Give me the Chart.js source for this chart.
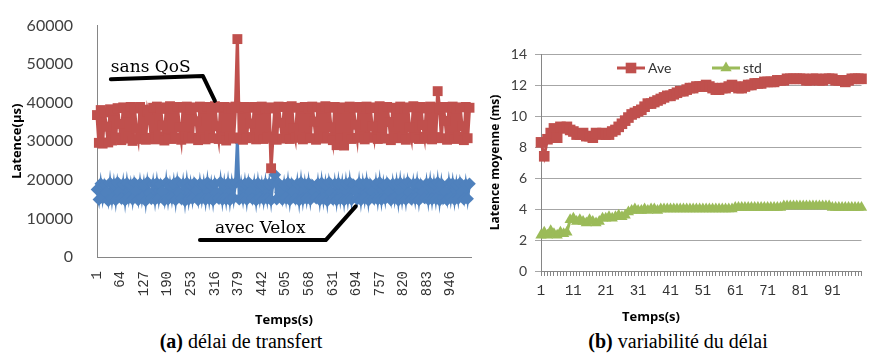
<!DOCTYPE html>
<html><head><meta charset="utf-8">
<script src="https://cdn.jsdelivr.net/npm/chart.js@4.4.1/dist/chart.umd.min.js"></script>
<style>
html,body{margin:0;padding:0;background:#fff;width:869px;height:356px;overflow:hidden;position:relative;}
#wa{position:absolute;left:0;top:0;width:480px;height:330px;}
#wb{position:absolute;left:480px;top:0;width:389px;height:330px;}
.cap{position:absolute;top:330px;font-family:"Liberation Serif",serif;font-size:20px;color:#000;white-space:nowrap;transform:translateX(-50%);}
</style></head><body>
<div id="wa"><canvas id="ca"></canvas></div>
<div id="wb"><canvas id="cb"></canvas></div>
<div class="cap" style="left:241px"><b>(a)</b> délai de transfert</div>
<div class="cap" style="left:678px"><b>(b)</b> variabilité du délai</div>
<script>
// ---------- Chart (a) data ----------
const timesA = [
 1,6,11,16,21,26,31,36,41,46, 51,56,61,66,71,76,81,86,91,96,
 101,106,111,116,121,126,131,136,141,146, 151,156,161,166,171,176,181,186,191,196,
 201,206,211,216,221,226,231,236,241,246, 251,256,261,266,271,276,281,286,291,296,
 301,306,311,316,321,326,331,336,341,346, 351,356,361,366,371,376,381,386,391,396,
 401,406,411,416,421,426,431,436,441,446, 451,456,461,466,471,476,481,486,491,496,
 501,506,511,516,521,526,531,536,541,546, 551,556,561,566,571,576,581,586,591,596,
 601,606,611,616,621,626,631,636,641,646, 651,656,661,666,671,676,681,686,691,696,
 701,706,711,716,721,726,731,736,741,746, 751,756,761,766,771,776,781,786,791,796,
 801,806,811,816,821,826,831,836,841,846, 851,856,861,866,871,876,881,886,891,896,
 901,906,911,916,921,926,931,936,941,946, 951,956,961,966,971,976,981,986,991,996];
const sansQoS = [
 36800,29600,38100,29400,37500,33800,29700,38300,30200,37900,
 31000,38600,34500,30300,38800,30700,37400,31200,38900,30100,
 38500,33200,30600,38900,31100,38200,30400,37800,35600,30900,
 38700,30500,39000,31300,38400,34100,30200,38800,30800,39100,
 30600,38500,31000,38900,33700,30400,38700,31200,39000,30700,
 38300,30900,38800,35200,30300,39000,31100,38600,30500,38900,
 31400,38400,30800,39100,33900,30600,38700,31000,38900,30200,
 38500,31200,38800,30700,39000,56500,31000,38600,30400,38900,
 30800,38700,34600,31100,38900,30500,38300,31300,39000,30600,
 38600,30900,38800,23000,31200,38500,30400,39000,34800,30700,
 38900,31100,38400,30600,39100,33400,30900,38700,31300,38500,
 30500,38900,31000,38600,30800,39000,35100,30400,38800,31200,
 38500,30700,39100,31000,38700,33600,30300,38900,29000,38600,
 30800,38800,28900,38400,31100,39000,30600,38700,34300,30900,
 38900,31200,38500,30500,39000,30900,38600,33800,31100,38800,
 30600,39100,31000,38400,30700,38900,35000,30300,38700,31200,
 38600,30800,39000,31100,38500,30400,38800,33500,30900,39100,
 31000,38700,30600,38900,34200,31200,38500,30700,39000,30500,
 38800,31100,43000,38600,30800,38900,35300,30400,38700,31000,
 39000,30600,38500,31200,38800,33900,30300,38900,30800,38700];
const avecVelox = [
 17500,14900,19000,15300,18700,16800,14600,19200,15100,18800,
 14800,19300,16900,15200,18900,14700,19100,15400,18600,15000,
 19200,17100,14800,19000,15300,18700,14600,19400,16600,15100,
 18900,14900,19100,15200,18800,17000,14700,19300,15000,18600,
 15300,19000,14800,19500,16800,15100,18900,14600,19200,15000,
 18700,15200,19100,17200,14800,19000,15300,18800,14900,19300,
 15100,18600,14700,19000,16700,15200,19400,14900,18800,15000,
 19100,14800,18900,15300,19200,30500,15000,18700,15200,19000,
 14900,19300,16900,15100,18800,14700,19100,15300,18600,15000,
 19000,15200,18900,14800,19200,21300,15000,19100,16800,14900,
 18700,15300,19200,14800,18900,17000,15100,19000,14700,19300,
 15000,18800,15200,19100,14900,18600,16900,15300,19000,14800,
 19200,15100,18700,14600,19300,16800,15000,18900,14800,19100,
 15200,18800,14700,19000,15100,19300,14900,18700,17100,15000,
 19100,14800,18900,15300,19200,14700,18800,16900,15100,19000,
 15000,19300,14900,18700,15200,19100,17000,14800,18900,15300,
 19000,14700,19200,15100,18800,14900,19400,16700,15000,18900,
 15200,19100,14800,18700,16800,15300,19000,14900,19200,15000,
 18800,15100,19300,14700,18900,15200,17000,14800,19100,15300,
 19000,14900,18700,15200,19200,16900,15000,18800,15100,19000];
const xTickLabelsA = [1,64,127,190,253,316,379,442,505,568,631,694,757,820,883,946];
const annotationsA = [
 {text:'sans QoS', at:[38,49000], path:[[38,46100],[284,46900],[316,40500]]},
 {text:'avec Velox', at:[316,7470], path:[[276,4380],[612,4380],[692,13140]]}
];

// ---------- Chart (b) data ----------
const timesB = [1,2,3,4,5,6,7,8,9,10,11,12,13,14,15,16,17,18,19,20,21,22,23,24,25,26,27,28,29,30,31,32,33,34,35,36,37,38,39,40,41,42,43,44,45,46,47,48,49,50,51,52,53,54,55,56,57,58,59,60,61,62,63,64,65,66,67,68,69,70,71,72,73,74,75,76,77,78,79,80,81,82,83,84,85,86,87,88,89,90,91,92,93,94,95,96,97,98,99,100];
const aveB = [
 8.3,7.4,8.5,8.9,9.2,8.6,9.3,9.2,9.3,9.1,
 9.0,8.8,8.8,8.9,8.7,8.7,8.6,8.9,8.8,8.9,
 8.8,8.8,9.0,9.1,9.3,9.5,9.7,9.9,10.1,10.2,
 10.3,10.4,10.6,10.8,10.8,10.9,11.0,11.1,11.2,11.3,
 11.3,11.4,11.5,11.6,11.6,11.7,11.8,11.8,11.9,11.9,
 11.9,12.0,11.9,11.8,11.7,11.7,11.8,11.8,11.9,12.0,
 11.9,11.8,11.8,11.9,12.0,12.0,12.1,12.1,12.1,12.2,
 12.2,12.2,12.2,12.3,12.3,12.3,12.4,12.4,12.4,12.4,
 12.4,12.4,12.3,12.3,12.4,12.4,12.3,12.3,12.4,12.4,
 12.4,12.3,12.3,12.3,12.2,12.3,12.4,12.4,12.4,12.4];
const stdB = [
 2.3,2.5,2.3,2.6,2.4,2.3,2.5,2.4,2.5,3.3,
 3.4,3.2,3.3,3.2,3.1,3.3,3.2,3.1,3.2,3.4,
 3.4,3.5,3.4,3.5,3.6,3.5,3.6,3.8,3.9,4.0,
 3.9,3.9,4.0,3.9,4.0,4.0,3.9,4.0,4.0,4.0,
 4.0,4.0,4.0,4.0,4.0,4.0,4.0,4.0,4.0,4.0,
 4.0,4.0,4.0,4.0,4.0,4.0,4.0,4.0,4.0,4.0,
 4.1,4.1,4.1,4.1,4.1,4.1,4.1,4.1,4.1,4.1,
 4.1,4.1,4.1,4.1,4.1,4.2,4.2,4.2,4.2,4.2,
 4.2,4.2,4.2,4.2,4.2,4.2,4.2,4.2,4.2,4.2,
 4.1,4.1,4.1,4.1,4.1,4.1,4.1,4.1,4.1,4.1];
const xTickLabelsB = ['1','11','21','31','41','51','61','71','81','91'];

const RED = '#C0504D', BLUE = '#4F81BD', GREEN = '#9BBB59', AXIS = '#868686';

// ---------- Chart (a) ----------
const annotPlugin = {
  id: 'annotA',
  afterDraw(chart) {
    const {ctx, scales: {x, y}} = chart;
    ctx.save();
    ctx.strokeStyle = '#000'; ctx.lineWidth = 4; ctx.lineCap = 'round'; ctx.lineJoin = 'round';
    ctx.fillStyle = '#000'; ctx.font = '17px "DejaVu Serif"'; ctx.textBaseline = 'middle';
    for (const a of annotationsA) {
      ctx.beginPath();
      a.path.forEach(([vx, vy], i) => {
        const X = x.getPixelForValue(vx), Y = y.getPixelForValue(vy);
        i ? ctx.lineTo(X, Y) : ctx.moveTo(X, Y);
      });
      ctx.stroke();
      ctx.fillText(a.text, x.getPixelForValue(a.at[0]), y.getPixelForValue(a.at[1]));
    }
    ctx.restore();
  }
};

new Chart(document.getElementById('ca'), {
  type: 'line',
  data: {
    datasets: [
      {label: 'sans QoS', data: timesA.map((t, i) => ({x: t, y: sansQoS[i]})),
       borderColor: RED, backgroundColor: RED, borderWidth: 3.2, pointStyle: 'rect',
       pointRadius: 7, pointBorderWidth: 0, pointHoverRadius: 7, order: 0, clip: false},
      {label: 'avec Velox', data: timesA.map((t, i) => ({x: t, y: avecVelox[i]})),
       borderColor: BLUE, backgroundColor: BLUE, borderWidth: 3, pointStyle: 'rectRot',
       pointRadius: 6.3, pointBorderWidth: 0, pointHoverRadius: 6.3, order: 1, clip: false}
    ]
  },
  options: {
    responsive: true, maintainAspectRatio: false, animation: false,
    layout: {padding: {top: 24, right: 9, left: 0, bottom: 0}},
    plugins: {legend: {display: false}, tooltip: {enabled: false}},
    scales: {
      x: {
        type: 'linear', min: 1, max: 1000,
        afterBuildTicks: s => { s.ticks = xTickLabelsA.map(v => ({value: v})); },
        afterFit: s => { s.height = 73; },
        grid: {display: false},
        border: {display: true, color: AXIS, width: 1},
        ticks: {autoSkip: false, minRotation: 90, maxRotation: 90, padding: 6,
                font: {family: '"Liberation Mono"', size: 14}, color: '#333',
                callback: v => String(v)},
        title: {display: true, text: 'Temps(s)', color: '#000',
                font: {family: '"Open Sans"', weight: 'bold', size: 13}, padding: {top: 0, bottom: 2}}
      },
      y: {
        min: 0, max: 60000,
        afterFit: s => { s.width = 97; },
        grid: {display: false},
        border: {display: true, color: AXIS, width: 1},
        ticks: {stepSize: 10000, padding: 16, font: {family: 'Lato', size: 16}, color: '#404040',
                callback: v => String(v)},
        title: {display: true, text: 'Latence(µs)', color: '#000',
                font: {family: '"Open Sans"', weight: 'bold', size: 13}, padding: {top: 9, bottom: 0}}
      }
    }
  },
  plugins: [annotPlugin]
});

// ---------- Chart (b) ----------
const legendB = {
  id: 'legendB',
  afterDatasetsDraw(chart) {
    const {ctx, chartArea} = chart;
    const y = chartArea.top + 14;
    const starts = [76, 171];
    ctx.save();
    chart.data.datasets.forEach((ds, i) => {
      const x0 = chartArea.left + starts[i];
      ctx.strokeStyle = ds.borderColor; ctx.lineWidth = 3;
      ctx.beginPath(); ctx.moveTo(x0, y); ctx.lineTo(x0 + 28, y); ctx.stroke();
      ctx.fillStyle = ds.backgroundColor;
      Chart.helpers.drawPoint(ctx, {pointStyle: ds.pointStyle, radius: ds.pointRadius, rotation: 0, borderWidth: 0}, x0 + 14, y);
      ctx.fillStyle = '#333'; ctx.font = '14px Lato'; ctx.textBaseline = 'middle';
      ctx.fillText(ds.label, x0 + 31, y);
    });
    ctx.restore();
  }
};
const xTitleB = {
  id: 'xTitleB',
  afterDraw(chart) {
    const {ctx, chartArea, scales: {x}} = chart;
    ctx.save();
    ctx.fillStyle = '#000'; ctx.font = 'bold 13px "Open Sans"';
    ctx.textAlign = 'center'; ctx.textBaseline = 'middle';
    ctx.fillText('Temps(s)', chartArea.left + 110, x.bottom - 13);
    ctx.restore();
  }
};

new Chart(document.getElementById('cb'), {
  type: 'line',
  data: {
    labels: timesB,
    datasets: [
      {label: 'Ave', data: aveB, borderColor: RED, backgroundColor: RED, borderWidth: 3,
       pointStyle: 'rect', pointRadius: 7.5, pointBorderWidth: 0, pointHoverRadius: 7.5, clip: false},
      {label: 'std', data: stdB, borderColor: GREEN, backgroundColor: GREEN, borderWidth: 3,
       pointStyle: 'triangle', pointRadius: 6.5, pointBorderWidth: 0, pointHoverRadius: 6.5, clip: false}
    ]
  },
  options: {
    responsive: true, maintainAspectRatio: false, animation: false,
    layout: {padding: {top: 54, right: 3, left: 0, bottom: 0}},
    plugins: {legend: {display: false}, tooltip: {enabled: false}},
    scales: {
      x: {
        type: 'category', offset: false,
        afterFit: s => { s.height = 59; },
        grid: {drawOnChartArea: false, drawTicks: true, tickLength: 5, color: AXIS},
        border: {display: true, color: AXIS, width: 1},
        ticks: {autoSkip: false, maxRotation: 0, minRotation: 0, padding: 7,
                font: {family: '"Liberation Mono"', size: 14}, color: '#333',
                callback(v) { const l = String(this.getLabelForValue(v)); return xTickLabelsB.includes(l) ? l : ''; }}
      },
      y: {
        min: 0, max: 14,
        afterFit: s => { s.width = 61; },
        grid: {color: '#A6A6A6', tickLength: 6},
        border: {display: true, color: AXIS, width: 1},
        ticks: {stepSize: 2, padding: 8, font: {family: 'Lato', size: 14}, color: '#404040'},
        title: {display: true, text: 'Latence moyenne (ms)', color: '#000',
                font: {family: '"Open Sans"', weight: 'bold', size: 12}, padding: {top: 8, bottom: 0}}
      }
    }
  },
  plugins: [legendB, xTitleB]
});
</script>
</body></html>
